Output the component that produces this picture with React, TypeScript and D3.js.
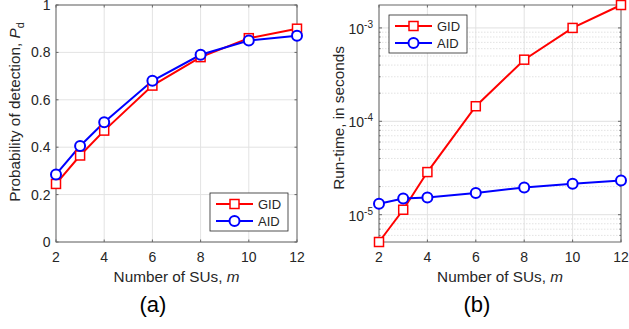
import React from "react";
import * as d3 from "d3";

// x values (number of SUs)
const mValues = [2, 3, 4, 6, 8, 10, 12];
// panel (a) probability of detection
const pdGID = [0.245, 0.365, 0.47, 0.66, 0.78, 0.86, 0.9];
const pdAID = [0.285, 0.405, 0.505, 0.68, 0.79, 0.85, 0.87];
// panel (b) run-time in seconds
const rtGID = [5.1e-6, 1.13e-5, 2.86e-5, 1.45e-4, 4.57e-4, 1.0e-3, 1.76e-3];
const rtAID = [1.31e-5, 1.49e-5, 1.53e-5, 1.71e-5, 1.96e-5, 2.15e-5, 2.33e-5];

const xTicks = [2, 4, 6, 8, 10, 12];
const pdTicks = [0, 0.2, 0.4, 0.6, 0.8, 1];
const rtMajor = [1e-5, 1e-4, 1e-3];
const seriesNames = ["GID", "AID"];

const RED = "#ff0000";
const BLUE = "#0000ff";
const TXT = "#262626";
const FONT = "Arial, 'Liberation Sans', Helvetica, sans-serif";
const TICK = 14;
const LAB = 15.3;

const Marker = ({ kind, x, y, color }: { kind: string; x: number; y: number; color: string }) =>
  kind === "sq" ? (
    <rect x={x - 4.5} y={y - 4.5} width={9} height={9} fill="#fff" stroke={color} strokeWidth={1.5} />
  ) : (
    <circle cx={x} cy={y} r={5} fill="#fff" stroke={color} strokeWidth={2} />
  );

const Legend = ({ x, y }: { x: number; y: number }) => (
  <g transform={`translate(${x},${y})`}>
    <rect width={78} height={38} fill="#fff" stroke="#262626" strokeWidth={0.8} />
    {seriesNames.map((n, i) => {
      const c = i === 0 ? RED : BLUE;
      const yy = 11 + i * 17;
      return (
        <g key={n}>
          <line x1={6} x2={43} y1={yy} y2={yy} stroke={c} strokeWidth={2} />
          <Marker kind={i === 0 ? "sq" : "ci"} x={24.5} y={yy} color={c} />
          <text x={48} y={yy + 4.5} fontSize={13} fill={TXT} fontFamily={FONT}>
            {n}
          </text>
        </g>
      );
    })}
  </g>
);

const App = () => {
  // panel (a)
  const xa = d3.scaleLinear().domain([2, 12]).range([56, 297]);
  const ya = d3.scaleLinear().domain([0, 1]).range([242, 5]);
  // panel (b)
  const xb = d3.scaleLinear().domain([2, 12]).range([379, 621]);
  const yb = d3.scaleLog().domain([5.1e-6, 1.76e-3]).range([242, 5]);

  const lineA = (vals: number[]) =>
    d3.line<number>().x((_, i) => xa(mValues[i])).y((v) => ya(v))(vals) || "";
  const lineB = (vals: number[]) =>
    d3.line<number>().x((_, i) => xb(mValues[i])).y((v) => yb(v))(vals) || "";

  // minor log grid
  const minor: number[] = [];
  [1e-6, 1e-5, 1e-4, 1e-3].forEach((d) => {
    for (let k = 2; k <= 9; k++) {
      const v = d * k;
      if (v >= 5.1e-6 && v <= 1.76e-3) minor.push(v);
    }
  });

  return (
    <svg width={629} height={329} style={{ position: "absolute", left: 0, top: 0, background: "#fff" }}>
      {/* ---------- (a) ---------- */}
      <rect x={56} y={5} width={241} height={237} fill="#fff" />
      {xTicks.map((t) => (
        <line key={"ga" + t} x1={xa(t)} x2={xa(t)} y1={5} y2={242} stroke="#e3e3e3" strokeWidth={1} />
      ))}
      {pdTicks.map((t) => (
        <line key={"gya" + t} x1={56} x2={297} y1={ya(t)} y2={ya(t)} stroke="#e3e3e3" strokeWidth={1} />
      ))}
      <rect x={56} y={5} width={241} height={237} fill="none" stroke="#666" strokeWidth={1} />
      {xTicks.map((t) => (
        <g key={"ta" + t}>
          <line x1={xa(t)} x2={xa(t)} y1={242} y2={239.5} stroke="#666" />
          <line x1={xa(t)} x2={xa(t)} y1={5} y2={7.5} stroke="#666" />
          <text x={xa(t)} y={262} textAnchor="middle" fontSize={TICK} fill={TXT} fontFamily={FONT}>
            {t}
          </text>
        </g>
      ))}
      {pdTicks.map((t) => (
        <g key={"tya" + t}>
          <line x1={56} x2={58.5} y1={ya(t)} y2={ya(t)} stroke="#666" />
          <line x1={297} x2={294.5} y1={ya(t)} y2={ya(t)} stroke="#666" />
          <text x={50.5} y={ya(t) + 5} textAnchor="end" fontSize={TICK} fill={TXT} fontFamily={FONT}>
            {t === 0 || t === 1 ? String(t) : t.toFixed(1)}
          </text>
        </g>
      ))}
      <path d={lineA(pdGID)} fill="none" stroke={RED} strokeWidth={2} />
      <path d={lineA(pdAID)} fill="none" stroke={BLUE} strokeWidth={2} />
      {pdGID.map((v, i) => (
        <Marker key={"ma" + i} kind="sq" x={xa(mValues[i])} y={ya(v)} color={RED} />
      ))}
      {pdAID.map((v, i) => (
        <Marker key={"mb" + i} kind="ci" x={xa(mValues[i])} y={ya(v)} color={BLUE} />
      ))}
      <Legend x={210} y={193} />
      <text x={176.5} y={282} textAnchor="middle" fontSize={LAB} fill={TXT} fontFamily={FONT}>
        Number of SUs, <tspan fontStyle="italic">m</tspan>
      </text>
      <text transform="translate(19.5,112) rotate(-90)" textAnchor="middle" fontSize={LAB} fill={TXT} fontFamily={FONT}>
        Probability of detection, <tspan fontStyle="italic">P</tspan>
        <tspan fontSize={11} dy={4}>d</tspan>
      </text>
      <text x={153} y={312} textAnchor="middle" fontSize={22} fill="#000" fontFamily={FONT}>
        (a)
      </text>

      {/* ---------- (b) ---------- */}
      <rect x={379} y={5} width={242} height={237} fill="#fff" />
      {xTicks.map((t) => (
        <line key={"gb" + t} x1={xb(t)} x2={xb(t)} y1={5} y2={242} stroke="#e3e3e3" strokeWidth={1} />
      ))}
      {minor.map((v) => (
        <line key={"mn" + v} x1={379} x2={621} y1={yb(v)} y2={yb(v)} stroke="#dcdcdc" strokeWidth={0.8} strokeDasharray="1.5,1.5" />
      ))}
      {rtMajor.map((v) => (
        <line key={"mj" + v} x1={379} x2={621} y1={yb(v)} y2={yb(v)} stroke="#e0e0e0" strokeWidth={1} />
      ))}
      <rect x={379} y={5} width={242} height={237} fill="none" stroke="#666" strokeWidth={1} />
      {xTicks.map((t) => (
        <g key={"tb" + t}>
          <line x1={xb(t)} x2={xb(t)} y1={242} y2={239.5} stroke="#666" />
          <line x1={xb(t)} x2={xb(t)} y1={5} y2={7.5} stroke="#666" />
          <text x={xb(t)} y={262} textAnchor="middle" fontSize={TICK} fill={TXT} fontFamily={FONT}>
            {t}
          </text>
        </g>
      ))}
      {rtMajor.map((v) => (
        <g key={"tyb" + v}>
          <line x1={379} x2={382} y1={yb(v)} y2={yb(v)} stroke="#666" />
          <line x1={621} x2={618} y1={yb(v)} y2={yb(v)} stroke="#666" />
          <text x={373} y={yb(v) + 6} textAnchor="end" fontSize={TICK} fill={TXT} fontFamily={FONT}>
            10<tspan fontSize={10} dy={-6}>{Math.round(Math.log10(v))}</tspan>
          </text>
        </g>
      ))}
      {minor.map((v) => (
        <g key={"mt" + v}>
          <line x1={379} x2={380.5} y1={yb(v)} y2={yb(v)} stroke="#666" />
          <line x1={621} x2={619.5} y1={yb(v)} y2={yb(v)} stroke="#666" />
        </g>
      ))}
      <path d={lineB(rtGID)} fill="none" stroke={RED} strokeWidth={2} />
      <path d={lineB(rtAID)} fill="none" stroke={BLUE} strokeWidth={2} />
      {rtGID.map((v, i) => (
        <Marker key={"mc" + i} kind="sq" x={xb(mValues[i])} y={yb(v)} color={RED} />
      ))}
      {rtAID.map((v, i) => (
        <Marker key={"md" + i} kind="ci" x={xb(mValues[i])} y={yb(v)} color={BLUE} />
      ))}
      <Legend x={389} y={15} />
      <text x={500} y={282} textAnchor="middle" fontSize={LAB} fill={TXT} fontFamily={FONT}>
        Number of SUs, <tspan fontStyle="italic">m</tspan>
      </text>
      <text transform="translate(343.5,118) rotate(-90)" textAnchor="middle" fontSize={LAB} fill={TXT} fontFamily={FONT}>
        Run-time, in seconds
      </text>
      <text x={477} y={312} textAnchor="middle" fontSize={22} fill="#000" fontFamily={FONT}>
        (b)
      </text>
    </svg>
  );
};

export default App;
